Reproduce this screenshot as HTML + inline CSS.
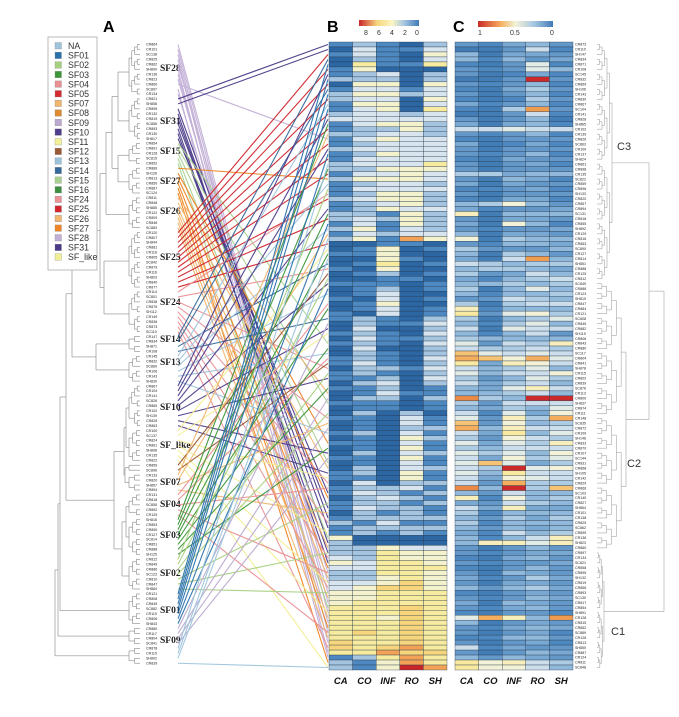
<!DOCTYPE html>
<html><head><meta charset="utf-8">
<style>
html,body{margin:0;padding:0;background:#fff;}
svg{display:block;font-family:"Liberation Sans",sans-serif;}
</style></head>
<body>
<svg id="fig" width="679" height="717" viewBox="0 0 679 717" xmlns="http://www.w3.org/2000/svg">
  <text x="103" y="32" font-size="16" font-weight="bold">A</text>
  <text x="327" y="32" font-size="16" font-weight="bold">B</text>
  <text x="453" y="32" font-size="16" font-weight="bold">C</text>
  <defs>
    <linearGradient id="gB" x1="0" x2="1" y1="0" y2="0">
      <stop offset="0" stop-color="#c8252b"/><stop offset="0.3" stop-color="#f6d57c"/>
      <stop offset="0.55" stop-color="#fbf6c2"/><stop offset="0.75" stop-color="#a7c6e1"/>
      <stop offset="1" stop-color="#3f7bb6"/>
    </linearGradient>
    <linearGradient id="gC" x1="0" x2="1" y1="0" y2="0">
      <stop offset="0" stop-color="#cc2a2a"/><stop offset="0.3" stop-color="#f4ae5e"/>
      <stop offset="0.5" stop-color="#f3f2d8"/><stop offset="0.75" stop-color="#a7c6e1"/>
      <stop offset="1" stop-color="#3f7bb6"/>
    </linearGradient>
  </defs>
  <rect x="359" y="20" width="60" height="6" fill="url(#gB)"/>
  <g font-size="7" fill="#333">
    <text x="364" y="35">8</text><text x="377" y="35">6</text><text x="390" y="35">4</text><text x="403" y="35">2</text><text x="415" y="35">0</text>
  </g>
  <rect x="478" y="21" width="75" height="6" fill="url(#gC)"/>
  <g font-size="7" fill="#333">
    <text x="478" y="35">1</text><text x="510" y="35">0.5</text><text x="550" y="35">0</text>
  </g>
  <g id="tree" stroke="#8f8f8f" stroke-width="0.65" fill="none"></g>
  <g id="leafL" font-size="3.6" fill="#222"></g>
  <g id="sfl" font-family="Liberation Serif,serif" font-weight="bold" font-size="9.5" fill="#222"></g>
  <g id="links" fill="none" stroke-width="1.1"></g>
  <g id="hmB"></g>
  <g id="hmC"></g>
  <g id="leafR" font-size="3.6" fill="#222"></g>
  <g id="treeR" stroke="#a5a5a5" stroke-width="0.6" fill="none"></g>
  <g font-size="11" fill="#333">
    <text x="617" y="150">C3</text>
    <text x="627" y="467">C2</text>
    <text x="611" y="635">C1</text>
  </g>
  <g id="xlab" font-size="9.5" font-weight="bold" font-style="italic" fill="#111"></g>
  <g id="legend">
    <rect x="48" y="37" width="49" height="233" fill="#fff" stroke="#aaa" stroke-width="0.8"/>
  </g>
</svg>
<script>
const tissues = ["CA","CO","INF","RO","SH"];
const caB = [1,0,1,0,0,1,1,2,0,1, 2,2,1,1,2,3,1,1,2,1, 1,2,1,1,2,2,1,2,1,1,
 1,2,1,1,2,2,1,2,1,2, 0,0,1,0,0,1,0,0,1,0, 0,1,0,0,1,1,0,0,1,0, 1,0,0,1,1,0,1,1,0,1, 0,0,1,0,0,1,0,0,1,0, 1,0,0,1,0,0,1,1,0,1, 1,0,1,1,0,1,2,1,1,4,
 2,2,2,3,4,3,2,2,3,3, 4,4,4,5,5,5,5,5,5,5, 6,6,5,1,2,2];
const coB = [2,3,3,2,5,4,2,2,4,3, 4,3,4,3,3,3,3,2,2,3, 2,3,2,3,3,2,3,4,2,3,
 2,3,2,2,2,3,3,4,3,4, 0,1,1,0,1,0,1,0,1,1, 1,0,1,1,0,2,2,3,2,3, 2,3,2,2,3,2,2,1,2,1, 1,2,1,1,2,1,1,1,2,1, 1,1,2,1,1,2,2,1,3,2, 3,2,2,3,2,2,1,2,2,0,
 0,2,2,2,3,3,2,2,3,4, 4,4,5,5,5,5,5,5,6,5, 5,5,5,2,1,1];
const infB = [1,1,1,1,1,0,3,2,4,3, 4,3,4,4,3,3,4,2,3,4, 3,3,4,3,3,4,3,4,3,3,
 4,4,3,4,1,2,1,1,2,1, 1,4,4,4,5,4,2,1,1,2, 3,3,4,3,3,1,1,0,1,1, 1,0,1,1,1,2,1,2,3,2, 3,2,1,1,0,0,0,0,0,0, 0,0,0,0,0,0,0,0,0,2, 2,3,2,2,1,2,3,2,1,0,
 0,4,5,5,5,5,5,4,4,6, 5,5,5,5,5,4,5,5,5,5, 5,6,7,5,4,4];
const roB = [0,1,0,0,1,0,0,0,0,1, 2,0,0,0,2,3,4,4,3,3, 3,3,3,3,3,4,4,4,3,3,
 4,4,4,3,4,4,4,3,3,7, 1,0,0,1,0,0,0,1,0,0, 0,0,0,0,0,0,1,0,0,1, 0,0,0,0,0,1,0,0,0,0, 1,0,0,0,2,3,3,2,3,4, 3,4,3,4,3,3,4,4,2,3, 1,2,1,2,2,2,1,2,2,0,
 0,3,4,4,5,5,5,5,6,6, 5,5,5,6,6,6,6,6,6,6, 6,7,6,7,7,9];
const shB = [2,3,4,3,5,0,2,2,4,3, 3,4,3,5,3,3,2,2,2,3, 3,3,3,3,5,4,3,3,2,3,
 2,2,2,3,2,2,2,2,3,4, 0,1,0,0,1,0,1,0,1,1, 0,1,0,1,1,2,3,2,3,2, 3,2,2,3,2,3,2,3,2,1, 1,2,1,1,0,1,1,2,1,2, 1,1,2,1,1,2,1,1,2,1, 2,1,2,1,1,2,1,2,1,0,
 0,3,4,4,4,5,4,4,4,4, 5,5,5,5,5,5,5,5,5,5, 5,5,6,5,5,7];

const caC = [.2,.1,.3,.3,.15,.2,.2,.1,.2,.15, .2,.15,.25,.15,.1,.2,.25,.4,.2,.15, .25,.2,.2,.15,.2,.2,.35,.2,.25,.15,
 .2,.15,.3,.25,.55,.2,.25,.2,.3,.5, .2,.35,.3,.25,.4,.3,.35,.25,.3,.35, .3,.2,.35,.55,.6,.35,.3,.4,.3,.35,
 .45,.4,.7,.75,.6,.4,.45,.35,.4,.3, .3,.85,.35,.3,.4,.45,.7,.75,.4,.35, .45,.35,.45,.4,.45,.4,.45,.4,.4,.85,
 .3,.55,.25,.4,.35,.3,.35,.3,.25,.3, .3,.2,.2,.15,.2,.15,.2,.25,.2,.3, .15,.2,.25,.2,.15,.45,.3,.2,.2,.15, .2,.4,.2,.3,.6,.6];
const coC = [.15,.1,.1,.15,.1,.15,.1,.1,.15,.1, .1,.1,.15,.1,.1,.1,.1,.4,.15,.1, .1,.1,.15,.1,.1,.1,.35,.1,.1,.15,
 .1,.1,.35,.15,.1,.1,.1,.15,.1,.1, .15,.2,.1,.1,.35,.35,.2,.15,.3,.1, .15,.2,.1,.15,.2,.1,.15,.1,.15,.3,
 .2,.35,.45,.7,.25,.3,.3,.2,.25,.25, .3,.35,.2,.25,.15,.2,.2,.3,.25,.2, .25,.3,.35,.25,.7,.35,.3,.25,.2,.3,
 .2,.15,.2,.25,.15,.2,.15,.2,.15,.15, .55,.1,.15,.1,.15,.1,.1,.15,.1,.2, .1,.15,.1,.15,.1,.75,.1,.15,.1,.15, .1,.15,.1,.2,.5,.5];
const infC = [.25,.2,.25,.3,.2,.2,.15,.2,.2,.25, .2,.15,.2,.35,.2,.2,.25,.45,.2,.2, .15,.2,.2,.25,.2,.2,.25,.3,.25,.2,
 .2,.25,.5,.2,.3,.25,.5,.2,.25,.35, .3,.2,.35,.4,.3,.35,.25,.3,.35,.3, .3,.4,.35,.3,.45,.3,.35,.45,.3,.3,
 .4,.35,.4,.5,.55,.35,.4,.3,.35,.45, .35,.3,.4,.35,.45,.55,.5,.55,.6,.5, .45,.4,.45,.5,.45,1,.6,.5,.75,1,
 .4,.5,.4,.55,.3,.35,.3,.3,.4,.3, .55,.2,.2,.25,.2,.2,.3,.2,.25,.3, .2,.2,.3,.25,.2,.55,.2,.25,.2,.3, .2,.25,.2,.3,.55,.5];
const roC = [.3,.4,.25,.2,.45,.45,.25,1,.3,.35, .3,.35,.3,.8,.4,.3,.3,.4,.3,.2, .25,.2,.3,.2,.25,.2,.3,.25,.2,.25,
 .2,.25,.3,.2,.3,.25,.3,.2,.25,.3, .3,.2,.3,.8,.35,.3,.4,.35,.3,.45, .3,.35,.4,.3,.5,.35,.45,.4,.4,.3,
 .35,.4,.45,.75,.5,.45,.4,.45,.4,.55, .4,1,.4,.3,.25,.35,.3,.4,.3,.4, .35,.4,.3,.35,.25,.45,.4,.45,.35,.35,
 .3,.3,.35,.25,.3,.25,.3,.25,.3,.4, .45,.3,.25,.3,.2,.3,.25,.35,.25,.35, .25,.3,.25,.3,.2,.3,.25,.3,.25,.3, .25,.2,.3,.25,.4,.4];
const shC = [.2,.15,.2,.25,.15,.3,.15,.2,.15,.2, .15,.2,.15,.2,.15,.1,.15,.4,.15,.2, .15,.2,.15,.2,.15,.2,.3,.15,.2,.15,
 .2,.15,.2,.25,.3,.2,.15,.25,.2,.3, .25,.3,.2,.3,.35,.25,.3,.4,.35,.3, .35,.3,.4,.3,.35,.45,.3,.4,.2,.3,
 .55,.35,.4,.45,.4,.3,.5,.35,.3,.4, .3,1,.4,.45,.5,.75,.35,.4,.45,.35, .55,.4,.5,.45,.35,.5,.4,.4,.35,.7,
 .3,.35,.3,.25,.3,.35,.3,.3,.35,.55, .55,.2,.25,.2,.25,.2,.2,.25,.2,.25, .2,.25,.2,.2,.15,.8,.2,.25,.15,.2, .15,.2,.25,.2,.35,.3];

const familyNames = ["SF28","SF31","SF15","SF27","SF26","SF25","SF24","SF14","SF13","SF10","SF_like","SF12","SF07","SF04","SF03","SF02","SF01","SF09","NA"];
const familyStart = [0,11,20,25,31,38,50,59,63,69,78,85,87,91,96,104,111,118,122];
const targetRow = [112,114,118,120,108,122,116,110,19,123,106,
 0,1,95,100,97,93,104,102,90,
 60,72,84,99,113,
 27,80,91,105,117,124,
 70,85,101,107,111,115,119,
 2,5,8,11,14,17,20,23,26,31,35,40,
 30,45,65,75,88,96,103,109,121,
 3,9,44,55,
 12,28,37,50,62,78,
 6,15,21,33,48,57,67,82,86,
 41,58,87,98,108,114,125,
 46,64,
 18,38,76,94,
 52,63,89,106,118,
 16,25,34,42,53,61,69,81,
 29,47,66,74,92,102,110,
 4,7,10,13,22,36,49,
 56,71,77,83,
 24,39,43,125];
const legendNames = ["NA","SF01","SF02","SF03","SF04","SF05","SF07","SF08","SF09","SF10","SF11","SF12","SF13","SF14","SF15","SF16","SF24","SF25","SF26","SF27","SF28","SF31","SF_like"];
const famColor = {NA:"#9fc4dc",SF01:"#2a72ad",SF02:"#a6d07e",SF03:"#3c963a",SF04:"#ea8f92",SF05:"#d52b30",SF07:"#f0b56e",SF08:"#dd8a33",SF09:"#bba9cf",SF10:"#4f3e8c",SF11:"#f3f09a",SF12:"#9a5a35",SF13:"#9cc3da",SF14:"#356a9c",SF15:"#a9d292",SF16:"#3e8e41",SF24:"#ea9297",SF25:"#d0262c",SF26:"#f0b56e",SF27:"#ef8524",SF28:"#c2afd6",SF31:"#4a3a88",SF_like:"#f2ee94"};

const NS="http://www.w3.org/2000/svg";
function mk(tag, attrs, parent){const e=document.createElementNS(NS,tag);for(const k in attrs)e.setAttribute(k,attrs[k]);parent.appendChild(e);return e;}
const N=126, top0=42, bot0=670, rowH=(bot0-top0)/N;
const yRow = i => top0 + (i+0.5)*rowH;
const yLeafL = i => 44.5 + i*4.95;
const xB0=329, xC0=455, colW=23.6;
const xCol = (x0,j) => x0 + j*colW;

function lerpHex(a,b,t){const pa=[1,3,5].map(k=>parseInt(a.substr(k,2),16)),pb=[1,3,5].map(k=>parseInt(b.substr(k,2),16));return "rgb("+pa.map((v,i)=>Math.round(v+(pb[i]-v)*t)).join(",")+")";}
function scale(stops,v){if(v<=stops[0][0])return stops[0][1];for(let i=1;i<stops.length;i++){if(v<=stops[i][0]){const t=(v-stops[i-1][0])/(stops[i][0]-stops[i-1][0]);return lerpHex(stops[i-1][1],stops[i][1],t);}}return stops[stops.length-1][1];}
const stopsB=[[0,"#2c66a3"],[1,"#4d88c0"],[2,"#a4c4df"],[3,"#d9e5ee"],[4,"#f4f2cc"],[5,"#f6eb9e"],[6,"#f6d57c"],[7,"#f2a256"],[8,"#e0653a"],[9,"#c8252b"]];
const stopsC=[[0,"#2c66a3"],[.15,"#4d88c0"],[.3,"#8fb8db"],[.42,"#d8e6ef"],[.5,"#f3f2d8"],[.6,"#fae9a0"],[.75,"#f4ae5e"],[.85,"#ea8a45"],[1,"#cc2a2a"]];

const colsB=[caB,coB,infB,roB,shB], colsC=[caC,coC,infC,roC,shC];
const gB=document.getElementById("hmB"), gC=document.getElementById("hmC");
colsB.forEach((arr,j)=>arr.forEach((v,i)=>{
  const r=mk("rect",{x:xCol(xB0,j),y:top0+i*rowH,width:colW,height:rowH,fill:scale(stopsB,v),stroke:"#23364a","stroke-width":0.35},gB);
  
  
}));
colsC.forEach((arr,j)=>arr.forEach((v,i)=>{
  const r=mk("rect",{x:xCol(xC0,j),y:top0+i*rowH,width:colW,height:rowH,fill:scale(stopsC,v),stroke:"#23364a","stroke-width":0.35},gC);
  
  
}));
const gx=document.getElementById("xlab");
tissues.forEach((t,j)=>{
  [xB0,xC0].forEach(x0=>{
    const e=mk("text",{x:xCol(x0,j)+colW/2,y:684,"text-anchor":"middle"},gx);e.textContent=t;
    
    
  });
});

function famOf(i){let f=0;for(let k=0;k<familyStart.length;k++)if(i>=familyStart[k])f=k;return f;}
const gl=document.getElementById("links");
targetRow.forEach((t,i)=>{
  const c=famColor[familyNames[famOf(i)]];
  const l=mk("line",{x1:178,y1:yLeafL(i),x2:328,y2:yRow(t),stroke:c,"stroke-opacity":0.95},gl);
  
  
});

const pre=["CR","CR","CR","SC","CR","CR","SH"];
function lname(i,s){const n=(i*37+s*53+11)%150;return pre[(i+s)%7]+(n<100?"8"+String(n%100).padStart(2,"0"):String(n));}
const gLL=document.getElementById("leafL"), gLR=document.getElementById("leafR");
for(let i=0;i<N;i++){
  const a=mk("text",{x:146,y:yLeafL(i)+1.2},gLL);a.textContent=lname(i,1);
  const b=mk("text",{x:575,y:yRow(i)+1.2},gLR);b.textContent=lname(i,4);
}
const gs=document.getElementById("sfl");
const sfLabelY={SF28:68,SF31:121,SF15:151,SF27:181,SF26:211,SF25:257,SF24:302,SF14:339,SF13:362,SF10:407,SF_like:445,SF07:482,SF04:504,SF03:535,SF02:573,SF01:610,SF09:640};
for(const k in sfLabelY){const e=mk("text",{x:160,y:sfLabelY[k]+3},gs);e.textContent=k;
  
  }

function line(g,x1,y1,x2,y2){mk("line",{x1,y1,x2,y2},g);}
function sub(g,lo,hi,xLeaf,xTop,yf){
  const n=hi-lo+1, lv=Math.ceil(Math.log2(Math.max(n,1))), maxLv=Math.max(lv,1);
  function rec(a,b){
    if(a===b) return {y:yf(a),x:xLeaf};
    const m=Math.floor((a+b)/2);
    const L=rec(a,m),R=rec(m+1,b);
    const l=Math.ceil(Math.log2(b-a+1));
    const x=xLeaf+(xTop-xLeaf)*l/maxLv;
    line(g,x,L.y,x,R.y);line(g,x,L.y,L.x,L.y);line(g,x,R.y,R.x,R.y);
    return {y:(L.y+R.y)/2,x};
  }
  return rec(lo,hi);
}
const gt=document.getElementById("tree");
const famNodes=familyNames.map((f,k)=>{
  const lo=familyStart[k],hi=(k+1<familyStart.length?familyStart[k+1]:N)-1;
  return sub(gt,lo,hi,140,129,yLeafL);
});
const TOP=[72,[100,[106,[112,[118,0,1],[118,2,3]],4],[104,5,6]],[96,7,8]];
const BOT=[114,[124,[126,9,10],[125,11,12]],[122,[126,13,14],15]];
const treeA=[55,[58,[60,[66,TOP,BOT],16],17],18];
function merge(n){
  if(typeof n==="number") return famNodes[n];
  const L=merge(n[1]),R=merge(n[2]),x=n[0];
  line(gt,x,L.y,x,R.y);line(gt,x,L.y,L.x,L.y);line(gt,x,R.y,R.x,R.y);
  return {y:(L.y+R.y)/2,x};
}
merge(treeA);

const gr=document.getElementById("treeR");
const c3=sub(gr,0,47,597,612,yRow), c2=sub(gr,48,101,597,626,yRow), c1=sub(gr,102,125,597,604,yRow);
line(gr,c3.x,c3.y,649,c3.y);line(gr,c2.x,c2.y,649,c2.y);line(gr,649,c3.y,649,c2.y);
const m32=(c3.y+c2.y)/2;
line(gr,649,m32,664,m32);line(gr,c1.x,c1.y,664,c1.y);line(gr,664,m32,664,c1.y);

const lg=document.getElementById("legend");
legendNames.forEach((n,i)=>{
  const y=46+i*9.6;
  const s=mk("rect",{x:55,y:y-3.5,width:6.5,height:6.5,fill:famColor[n],stroke:"#888","stroke-width":0.3},lg);
  
  
  const t=mk("text",{x:68,y:y+3,"font-size":8.8,fill:"#333"},lg);t.textContent=n;
  
  
});
</script>
</body></html>
